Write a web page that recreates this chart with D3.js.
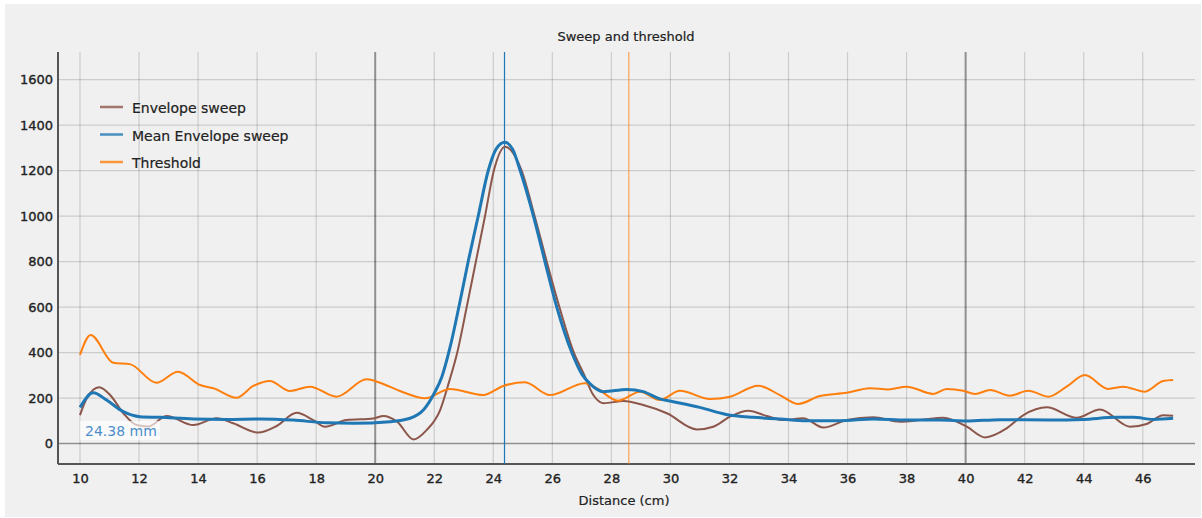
<!DOCTYPE html>
<html>
<head>
<meta charset="utf-8">
<script src="https://cdn.jsdelivr.net/npm/d3@7"></script>
<style>
  body { margin: 0; background: #ffffff; }
  text { font-family: "DejaVu Sans", sans-serif; }
</style>
</head>
<body>
<div id="container"></div>
<script>
// data (x = distance in cm)
const envelopeX = [10.0, 10.23, 10.65, 11.02, 11.47, 11.92, 12.31, 12.94, 13.84, 14.63, 15.19, 16.04, 16.66, 17.34, 17.9, 18.3, 19.03, 19.94, 20.28, 20.74, 21.3, 21.74, 22.2, 22.5, 22.78, 23.1, 23.41, 23.72, 24.02, 24.4, 24.75, 24.96, 25.4, 25.81, 26.24, 26.73, 27.05, 27.39, 27.73, 28.41, 29.08, 29.88, 30.9, 31.45, 32.02, 32.64, 33.26, 33.82, 34.5, 35.18, 35.97, 36.87, 37.78, 38.46, 39.25, 40.04, 40.66, 41.39, 41.96, 42.75, 43.76, 44.55, 45.57, 46.13, 46.69, 47.03];
const envelopeY = [125, 199, 247, 213, 133, 81, 75, 121, 81, 111, 89, 48, 77, 135, 103, 74, 103, 110, 121, 96, 18, 59, 147, 270, 400, 600, 800, 1000, 1200, 1305, 1260, 1200, 1000, 800, 600, 400, 310, 213, 177, 187, 169, 133, 62, 74, 118, 144, 121, 103, 111, 70, 103, 115, 96, 103, 113, 74, 27, 67, 125, 159, 113, 150, 74, 86, 124, 122];

const meanX = [10.0, 10.45, 10.9, 11.47, 12.03, 12.71, 13.84, 14.97, 16.1, 17.22, 18.35, 19.26, 20.5, 21.18, 21.63, 22.0, 22.25, 22.53, 22.85, 23.15, 23.49, 23.83, 24.1, 24.39, 24.65, 24.91, 25.36, 25.75, 26.15, 26.66, 27.0, 27.28, 27.73, 28.52, 29.08, 29.64, 30.09, 30.99, 31.89, 32.8, 33.71, 34.61, 35.74, 36.87, 38.0, 39.13, 40.04, 41.17, 42.86, 43.99, 45.12, 45.68, 46.36, 47.03];
const meanY = [159, 223, 191, 140, 118, 115, 108, 106, 108, 103, 91, 89, 96, 111, 147, 221, 290, 420, 610, 800, 1000, 1200, 1295, 1324, 1295, 1200, 1000, 800, 600, 400, 305, 262, 228, 238, 228, 196, 184, 159, 128, 115, 108, 100, 100, 108, 103, 103, 99, 105, 103, 106, 115, 115, 106, 111];

const thresholdX = [10.0, 10.36, 11.13, 11.69, 12.59, 13.32, 14.07, 14.52, 15.3, 15.87, 16.43, 17.11, 17.79, 18.69, 19.71, 20.16, 20.84, 21.69, 22.53, 23.66, 24.34, 25.07, 25.92, 27.1, 27.5, 28.23, 28.97, 29.64, 30.32, 31.34, 32.02, 32.97, 33.71, 34.33, 35.06, 35.97, 36.76, 37.38, 38.0, 38.91, 39.36, 39.92, 40.32, 40.83, 41.5, 42.12, 42.8, 43.42, 44.04, 44.83, 45.34, 46.07, 46.69, 47.03];
const thresholdY = [389, 477, 355, 349, 267, 316, 257, 243, 201, 253, 275, 231, 250, 206, 282, 267, 231, 199, 240, 213, 253, 269, 213, 265, 243, 188, 228, 191, 232, 196, 206, 254, 213, 174, 209, 223, 243, 238, 250, 218, 240, 232, 218, 235, 210, 232, 206, 250, 301, 240, 250, 228, 275, 279];

const peakDistance = 24.38;
const thresholdDistance = 28.59;

const xTicks = d3.range(10, 48, 2);
const yTicks = [0, 200, 400, 600, 800, 1000, 1200, 1400, 1600];
const majorX = [20, 40];

const legendItems = [
  { name: "Envelope sweep", color: "#8c564b" },
  { name: "Mean Envelope sweep", color: "#1f77b4" },
  { name: "Threshold", color: "#ff7f0e" }
];

const width = 1202, height = 518;
const margin = { top: 52, bottom: 54, left: 58, right: 7 };

const svg = d3.select("#container").append("svg")
  .attr("width", width)
  .attr("height", height);

svg.append("rect")
  .attr("x", 5).attr("y", 4)
  .attr("width", 1196).attr("height", 513)
  .attr("fill", "#f0f0f0");

const x = d3.scaleLinear()
  .domain([9.255, 47.77])
  .range([margin.left, width - margin.right]);

const y = d3.scaleLinear()
  .domain([-90, 1721])
  .range([height - margin.bottom, margin.top]);

// grid
const grid = svg.append("g");
grid.selectAll("line.vgrid")
  .data(xTicks)
  .join("line")
  .attr("class", "vgrid")
  .attr("x1", d => x(d)).attr("x2", d => x(d))
  .attr("y1", margin.top).attr("y2", height - margin.bottom)
  .attr("stroke", "#000")
  .attr("stroke-opacity", d => majorX.includes(d) ? 0.4 : 0.15)
  .attr("stroke-width", d => majorX.includes(d) ? 2 : 1.2);

grid.selectAll("line.hgrid")
  .data(yTicks)
  .join("line")
  .attr("class", "hgrid")
  .attr("x1", margin.left).attr("x2", width - margin.right)
  .attr("y1", d => y(d)).attr("y2", d => y(d))
  .attr("stroke", "#000")
  .attr("stroke-opacity", d => d === 0 ? 0.4 : 0.15)
  .attr("stroke-width", d => d === 0 ? 1.5 : 1.2);

// axes
const xAxis = svg.append("g")
  .attr("transform", `translate(0,${height - margin.bottom})`)
  .call(d3.axisBottom(x).tickValues(xTicks).tickFormat(d3.format("d")).tickSize(0).tickPadding(10));
const yAxis = svg.append("g")
  .attr("transform", `translate(${margin.left},0)`)
  .call(d3.axisLeft(y).tickValues(yTicks).tickFormat(d3.format("d")).tickSize(0).tickPadding(5));

[xAxis, yAxis].forEach(a => {
  a.select(".domain").attr("stroke", "#555").attr("stroke-width", 2);
  a.selectAll("text").attr("font-size", 13).attr("fill", "#222")
    .attr("stroke", "#222").attr("stroke-width", 0.35)
    .attr("font-family", "DejaVu Sans");
});
xAxis.select(".domain").attr("d", `M${margin.left},0H${width - margin.right}`);
yAxis.select(".domain").attr("d", `M0,${margin.top}V${height - margin.bottom}`);

// vertical markers
svg.append("line")
  .attr("x1", x(peakDistance)).attr("x2", x(peakDistance))
  .attr("y1", margin.top).attr("y2", height - margin.bottom)
  .attr("stroke", "#1f77b4").attr("stroke-width", 1.2);
svg.append("line")
  .attr("x1", x(thresholdDistance)).attr("x2", x(thresholdDistance))
  .attr("y1", margin.top).attr("y2", height - margin.bottom)
  .attr("stroke", "#ff7f0e").attr("stroke-opacity", 0.7).attr("stroke-width", 1.2);

// lines
const line = d3.line()
  .x(d => x(d[0]))
  .y(d => y(d[1]))
  .curve(d3.curveMonotoneX);

const series = [
  { xs: envelopeX, ys: envelopeY, color: "#8c564b", w: 2 },
  { xs: thresholdX, ys: thresholdY, color: "#ff7f0e", w: 2 },
  { xs: meanX, ys: meanY, color: "#1f77b4", w: 3 }
];

series.forEach(s => {
  svg.append("path")
    .datum(s.xs.map((v, i) => [v, s.ys[i]]))
    .attr("fill", "none")
    .attr("stroke", s.color)
    .attr("stroke-width", s.w)
    .attr("stroke-linejoin", "round")
    .attr("d", line);
});

// peak label
svg.append("rect")
  .attr("x", x(10)).attr("y", 421)
  .attr("width", 80).attr("height", 19)
  .attr("fill", "#ffffff").attr("fill-opacity", 0.65);
svg.append("text")
  .attr("x", x(10) + 5).attr("y", 436)
  .attr("font-size", 14)
  .attr("fill", "#4a8fca")
  .text(`${peakDistance.toFixed(2)} mm`);

// legend
const legend = svg.append("g");
legend.selectAll("line")
  .data(legendItems)
  .join("line")
  .attr("x1", 100).attr("x2", 123)
  .attr("y1", (d, i) => 107 + i * 27.5)
  .attr("y2", (d, i) => 107 + i * 27.5)
  .attr("stroke", d => d.color)
  .attr("stroke-opacity", 0.8)
  .attr("stroke-width", 2.5);
legend.selectAll("text")
  .data(legendItems)
  .join("text")
  .attr("x", 132)
  .attr("y", (d, i) => 113 + i * 27.5)
  .attr("font-size", 14)
  .attr("fill", "#222")
  .attr("stroke", "#222").attr("stroke-width", 0.2)
  .text(d => d.name);

// title and axis label
svg.append("text")
  .attr("x", 626).attr("y", 41)
  .attr("text-anchor", "middle")
  .attr("font-size", 13)
  .attr("fill", "#222")
  .attr("stroke", "#222").attr("stroke-width", 0.2)
  .text("Sweep and threshold");

svg.append("text")
  .attr("x", 624).attr("y", 505)
  .attr("text-anchor", "middle")
  .attr("font-size", 13)
  .attr("fill", "#222")
  .attr("stroke", "#222").attr("stroke-width", 0.2)
  .text("Distance (cm)");
</script>
</body>
</html>
